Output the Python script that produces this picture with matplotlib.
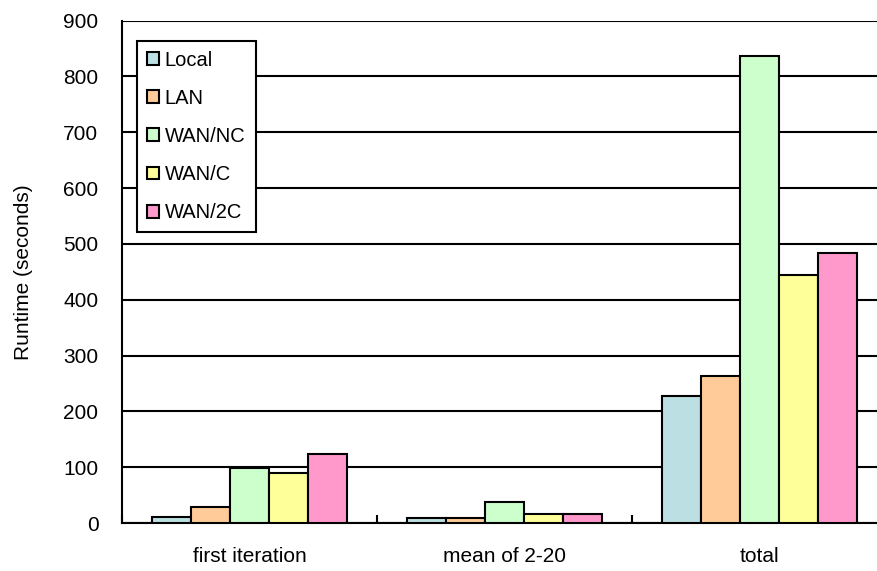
import matplotlib.pyplot as plt
import numpy as np

plt.rcParams['font.family'] = ['Liberation Sans', 'DejaVu Sans']

# Runtime per setup, in seconds
categories = ['first iteration', 'mean of 2-20', 'total']
setups = ['Local', 'LAN', 'WAN/NC', 'WAN/C', 'WAN/2C']
local = [10, 9, 227]
lan = [28, 9, 263]
wan_nc = [99, 38, 836]
wan_c = [89, 16, 444]
wan_2c = [124, 16, 484]
colors = ['#BBDFE2', '#FFCC99', '#CCFFCC', '#FFFF99', '#FF99CC']

fig = plt.figure(figsize=(8.78, 5.71), dpi=100)
ax = fig.add_axes([0.139, 0.084, 0.871, 0.880])

x = np.arange(len(categories))
width = 0.153
series = [local, lan, wan_nc, wan_c, wan_2c]
for i, (name, vals) in enumerate(zip(setups, series)):
    ax.bar(x + (i - 2) * width, vals, width, color=colors[i],
           edgecolor='black', linewidth=1.5, label=name, zorder=3)

ax.set_ylim(0, 900)
ax.set_xlim(-0.5, 2.5)
ax.set_yticks(range(0, 901, 100))
ax.yaxis.grid(True, color='black', linewidth=1.5, zorder=0)
ax.tick_params(axis='y', length=0, labelsize=15, pad=17)

# category boundaries carry the ticks, centres carry the labels
ax.set_xticks([-0.5, 0.5, 1.5, 2.5])
ax.set_xticklabels([])
ax.tick_params(axis='x', which='major', direction='in', length=6, width=1.5)
ax.set_xticks(x, minor=True)
ax.set_xticklabels(categories, minor=True)
ax.tick_params(axis='x', which='minor', length=0, labelsize=15, pad=17)

for s in ['top', 'right']:
    ax.spines[s].set_visible(False)
for s in ['left', 'bottom']:
    ax.spines[s].set_linewidth(1.5)

ax.set_ylabel('Runtime (seconds)', fontsize=15, labelpad=22)

leg = ax.legend(loc='upper left', bbox_to_anchor=(0.019, 0.96), fontsize=14.5,
                handlelength=0.6, handleheight=0.6, handletextpad=0.3,
                labelspacing=0.95, borderpad=0.5, borderaxespad=0,
                fancybox=False, framealpha=1)
leg.get_frame().set_edgecolor('black')
leg.get_frame().set_linewidth(1.5)
leg.set_zorder(5)

plt.savefig('out.png')
